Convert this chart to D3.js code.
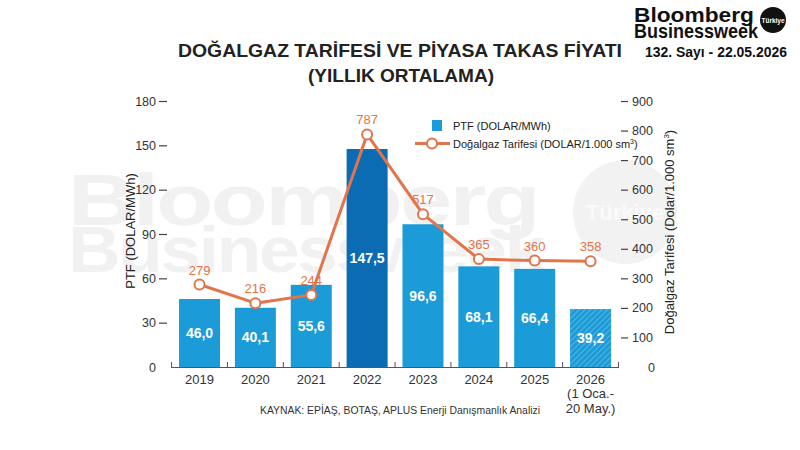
<!DOCTYPE html>
<html>
<head>
<meta charset="utf-8">
<script src="https://cdn.jsdelivr.net/npm/d3@7"></script>
<style>
  body { margin: 0; background: #fff; }
  svg text { font-family: "Liberation Sans", Arial, sans-serif; }
</style>
</head>
<body>
<script>
const years = ['2019', '2020', '2021', '2022', '2023', '2024', '2025', '2026']
const ptf = [46.0, 40.1, 55.6, 147.5, 96.6, 68.1, 66.4, 39.2]
const tarife = [279, 216, 244, 787, 517, 365, 360, 358]
const leftTicks = [0, 30, 60, 90, 120, 150, 180]
const rightTicks = [0, 100, 200, 300, 400, 500, 600, 700, 800, 900]

const w = 800
const h = 450
const x0 = 171.6, x1 = 618.5
const yTop = 101, yBot = 367

const blue = '#1b9bd7'
const darkBlue = '#0b6cb3'
const orange = '#e0754c'
const fmt = v => v.toFixed(1).replace('.', ',')

const svg = d3.select('body').append('svg')
  .attr('width', w)
  .attr('height', h)

const defs = svg.append('defs')
const pat = defs.append('pattern')
  .attr('id', 'hatch')
  .attr('patternUnits', 'userSpaceOnUse')
  .attr('width', 4).attr('height', 4)
  .attr('patternTransform', 'rotate(45)')
pat.append('rect').attr('width', 4).attr('height', 4).attr('fill', blue)
pat.append('line').attr('x1', 0).attr('y1', 0).attr('x2', 0).attr('y2', 4)
  .attr('stroke', '#8fd0ee').attr('stroke-width', 1)

// watermark
const wm = svg.append('g').attr('fill', '#f1f1f1')
wm.append('text').attr('x', 68).attr('y', 225)
  .attr('font-size', 72).attr('font-weight', 'bold').attr('letter-spacing', -2)
  .attr('textLength', 470).attr('lengthAdjust', 'spacingAndGlyphs')
  .text('Bloomberg')
wm.append('text').attr('x', 68).attr('y', 272)
  .attr('font-size', 64).attr('font-weight', 'bold').attr('letter-spacing', -2)
  .attr('textLength', 475).attr('lengthAdjust', 'spacingAndGlyphs')
  .text('Businessweek')
wm.append('circle').attr('cx', 625).attr('cy', 212).attr('r', 52).attr('fill', '#f2f2f2')
wm.append('text').attr('x', 625).attr('y', 220).attr('text-anchor', 'middle')
  .attr('font-size', 22).attr('font-weight', 'bold').attr('fill', '#fafafa')
  .text('Türkiye')

// scales
const xScale = d3.scaleBand()
  .domain(years)
  .range([x0, x1])
  .paddingInner(0.266)
  .paddingOuter(0.133)

const yLeft = d3.scaleLinear().domain([0, 180]).range([yBot, yTop])
const yRight = d3.scaleLinear().domain([0, 900]).range([yBot, yTop])

// left axis
const leftAxis = d3.axisLeft(yLeft).tickValues(leftTicks).tickSize(8).tickPadding(3)
const gl = svg.append('g')
  .attr('transform', 'translate(167,0)')
  .call(leftAxis)
gl.select('.domain').remove()
gl.selectAll('.tick line').attr('stroke', '#444').attr('stroke-width', 1.2)
gl.selectAll('.tick text').attr('font-size', 12.5).attr('fill', '#333')
  .style('font-family', '"Liberation Sans", Arial, sans-serif')
gl.selectAll('.tick').filter(d => d === 0).select('line').remove()

// right axis
const rightAxis = d3.axisRight(yRight).tickValues(rightTicks).tickSize(7).tickPadding(4)
const gr = svg.append('g')
  .attr('transform', 'translate(621,0)')
  .call(rightAxis)
gr.select('.domain').remove()
gr.selectAll('.tick line').attr('stroke', '#444').attr('stroke-width', 1.2)
gr.selectAll('.tick text').attr('font-size', 12.5).attr('fill', '#333')
  .style('font-family', '"Liberation Sans", Arial, sans-serif')
gr.selectAll('.tick').filter(d => d === 0).select('line').remove()
gr.selectAll('.tick').filter(d => d === 0).select('text').attr('x', 27)

// bars
svg.selectAll('rect.bar')
  .data(years)
  .enter()
  .append('rect')
  .attr('class', 'bar')
  .attr('x', d => xScale(d))
  .attr('y', (d, i) => yLeft(ptf[i]))
  .attr('width', xScale.bandwidth())
  .attr('height', (d, i) => yBot - yLeft(ptf[i]))
  .attr('fill', d => d === '2022' ? darkBlue : d === '2026' ? 'url(#hatch)' : blue)

svg.selectAll('text.barlabel')
  .data(years)
  .enter()
  .append('text')
  .attr('class', 'barlabel')
  .attr('x', d => xScale(d) + xScale.bandwidth() / 2)
  .attr('y', (d, i) => (yLeft(ptf[i]) + yBot) / 2 + 5)
  .attr('text-anchor', 'middle')
  .attr('font-size', 14)
  .attr('font-weight', 'bold')
  .attr('fill', '#fff')
  .text((d, i) => fmt(ptf[i]))

// baseline with category ticks
svg.append('line')
  .attr('x1', x0).attr('x2', x1)
  .attr('y1', yBot + 0.5).attr('y2', yBot + 0.5)
  .attr('stroke', '#555').attr('stroke-width', 1)
const bounds = years.map(d => xScale(d) - xScale.step() * xScale.paddingInner() / 2)
bounds.push(x1)
svg.selectAll('line.sep')
  .data(bounds)
  .enter()
  .append('line')
  .attr('class', 'sep')
  .attr('x1', d => d).attr('x2', d => d)
  .attr('y1', yBot - 5).attr('y2', yBot + 1)
  .attr('stroke', '#555').attr('stroke-width', 1)

// x labels
const xl = svg.append('g')
years.forEach(d => {
  const cx = xScale(d) + xScale.bandwidth() / 2
  xl.append('text').attr('x', cx).attr('y', 384)
    .attr('text-anchor', 'middle').attr('font-size', 13).attr('fill', '#333')
    .text(d)
})
const lastX = xScale('2026') + xScale.bandwidth() / 2
xl.append('text').attr('x', lastX).attr('y', 398)
  .attr('text-anchor', 'middle').attr('font-size', 13).attr('fill', '#333')
  .text('(1 Oca.-')
xl.append('text').attr('x', lastX).attr('y', 413)
  .attr('text-anchor', 'middle').attr('font-size', 13).attr('fill', '#333')
  .text('20 May.)')

// line series
const line = d3.line()
  .x((d, i) => xScale(years[i]) + xScale.bandwidth() / 2)
  .y(d => yRight(d))

svg.append('path')
  .datum(tarife)
  .attr('d', line)
  .attr('fill', 'none')
  .attr('stroke', orange)
  .attr('stroke-width', 3)
  .attr('stroke-linejoin', 'round')

svg.selectAll('circle.pt')
  .data(tarife)
  .enter()
  .append('circle')
  .attr('class', 'pt')
  .attr('cx', (d, i) => xScale(years[i]) + xScale.bandwidth() / 2)
  .attr('cy', d => yRight(d))
  .attr('r', 5)
  .attr('fill', '#fff')
  .attr('stroke', orange)
  .attr('stroke-width', 2)

svg.selectAll('text.ptlabel')
  .data(tarife)
  .enter()
  .append('text')
  .attr('class', 'ptlabel')
  .attr('x', (d, i) => xScale(years[i]) + xScale.bandwidth() / 2)
  .attr('y', d => yRight(d) - 10)
  .attr('text-anchor', 'middle')
  .attr('font-size', 13)
  .attr('fill', orange)
  .text(d => d)

// legend
const lg = svg.append('g')
lg.append('rect').attr('x', 432).attr('y', 120).attr('width', 10).attr('height', 11).attr('fill', blue)
lg.append('text').attr('x', 453).attr('y', 130).attr('font-size', 11).attr('fill', '#222')
  .text('PTF (DOLAR/MWh)')
lg.append('line').attr('x1', 415).attr('x2', 450).attr('y1', 143.5).attr('y2', 143.5)
  .attr('stroke', orange).attr('stroke-width', 3)
lg.append('circle').attr('cx', 432).attr('cy', 143.5).attr('r', 5)
  .attr('fill', '#fff').attr('stroke', orange).attr('stroke-width', 2)
const lt = lg.append('text').attr('x', 453).attr('y', 147.5).attr('font-size', 11).attr('fill', '#222')
lt.append('tspan').text('Doğalgaz Tarifesi (DOLAR/1.000 sm')
lt.append('tspan').attr('font-size', 7).attr('dy', -4).text('3')
lt.append('tspan').attr('dy', 4).text(')')

// axis titles
svg.append('text')
  .attr('transform', 'translate(135,' + ((yTop + yBot) / 2 - 3) + ') rotate(-90)')
  .attr('text-anchor', 'middle').attr('font-size', 13).attr('fill', '#222')
  .text('PTF (DOLAR/MWh)')
const rt = svg.append('text')
  .attr('transform', 'translate(674,' + ((yTop + yBot) / 2 - 2) + ') rotate(-90)')
  .attr('text-anchor', 'middle').attr('font-size', 13).attr('fill', '#222')
rt.append('tspan').text('Doğalgaz Tarifesi (Dolar/1.000 sm')
rt.append('tspan').attr('font-size', 8).attr('dy', -5).text('3')
rt.append('tspan').attr('dy', 5).text(')')

// title
svg.append('text').attr('x', 400).attr('y', 57)
  .attr('text-anchor', 'middle').attr('font-size', 18).attr('font-weight', 'bold').attr('fill', '#222')
  .attr('textLength', 444).attr('lengthAdjust', 'spacingAndGlyphs')
  .text('DOĞALGAZ TARİFESİ VE PİYASA TAKAS FİYATI')
svg.append('text').attr('x', 401).attr('y', 82)
  .attr('text-anchor', 'middle').attr('font-size', 18).attr('font-weight', 'bold').attr('fill', '#222')
  .attr('textLength', 186).attr('lengthAdjust', 'spacingAndGlyphs')
  .text('(YILLIK ORTALAMA)')

// source
svg.append('text').attr('x', 260).attr('y', 414)
  .attr('font-size', 10.5).attr('fill', '#333')
  .attr('textLength', 280).attr('lengthAdjust', 'spacingAndGlyphs')
  .text('KAYNAK: EPİAŞ, BOTAŞ, APLUS Enerji Danışmanlık Analizi')

// masthead
const mh = svg.append('g')
mh.append('text').attr('x', 634).attr('y', 22)
  .attr('font-size', 21).attr('font-weight', 'bold').attr('fill', '#111')
  .attr('textLength', 120).attr('lengthAdjust', 'spacingAndGlyphs')
  .text('Bloomberg')
mh.append('text').attr('x', 634).attr('y', 38)
  .attr('font-size', 21).attr('font-weight', 'bold').attr('fill', '#111')
  .attr('textLength', 124).attr('lengthAdjust', 'spacingAndGlyphs')
  .text('Businessweek')
mh.append('circle').attr('cx', 773).attr('cy', 20).attr('r', 13).attr('fill', '#111')
mh.append('text').attr('x', 773).attr('y', 22.5).attr('text-anchor', 'middle')
  .attr('font-size', 6.5).attr('font-weight', 'bold').attr('fill', '#fff')
  .text('Türkiye')
mh.append('text').attr('x', 645).attr('y', 57)
  .attr('font-size', 14).attr('font-weight', 'bold').attr('fill', '#111')
  .attr('textLength', 142).attr('lengthAdjust', 'spacingAndGlyphs')
  .text('132. Sayı - 22.05.2026')
</script>
</body>
</html>
